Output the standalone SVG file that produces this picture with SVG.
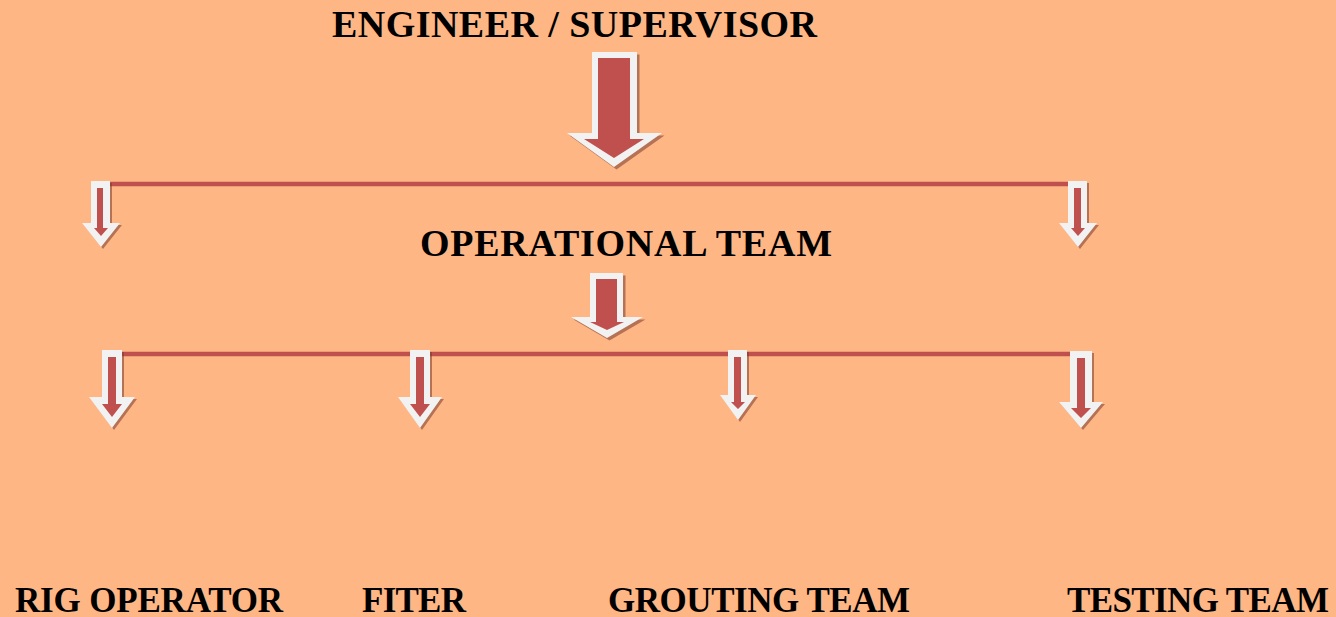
<svg xmlns="http://www.w3.org/2000/svg" width="1336" height="617" viewBox="0 0 1336 617">
<style>
.bg{fill:#FFB685}
.line{stroke:#C0504D;stroke-width:4.5;fill:none}
.sh{fill:#7a3a2c;opacity:0.55}
.out{fill:#F2F2F2}
.in{fill:#C0504D}
.t{font-family:"Liberation Serif","Times New Roman",serif;font-weight:bold;fill:#000}
</style>
<rect class="bg" x="0" y="0" width="1336" height="617"/>
<g id="connectors">
<line class="line" x1="108" y1="184" x2="1070" y2="184"/>
<line class="line" x1="120" y1="354" x2="1072" y2="354"/>
<g id="arrow-engineer">
<polygon class="sh" transform="translate(2.5,2.5)" points="592,52 637,52 637,133 662,133 614,167 567,133 592,133"/>
<polygon class="out" points="592,52 637,52 637,133 662,133 614,167 567,133 592,133"/>
<polygon class="in" points="598,58 630,58 630,139 644,139 614,158 584,139 598,139"/>
</g>
<g id="arrow-left-top">
<polygon class="sh" transform="translate(2,2)" points="91,181 110,181 110,223 120,223 101,247 82,223 91,223"/>
<polygon class="out" points="91,181 110,181 110,223 120,223 101,247 82,223 91,223"/>
<polygon class="in" points="97,188 103,188 103,228 108,228 101,236 94,228 97,228"/>
</g>
<g id="arrow-right-top">
<polygon class="sh" transform="translate(2,2)" points="1068,181 1087,181 1087,223 1097,223 1078,247 1059,223 1068,223"/>
<polygon class="out" points="1068,181 1087,181 1087,223 1097,223 1078,247 1059,223 1068,223"/>
<polygon class="in" points="1074,188 1081,188 1081,228 1085,228 1078,236 1071,228 1074,228"/>
</g>
<g id="arrow-operational">
<polygon class="sh" transform="translate(2.5,2.5)" points="590,273 623,273 623,317 643,317 607,338 571,317 590,317"/>
<polygon class="out" points="590,273 623,273 623,317 643,317 607,338 571,317 590,317"/>
<polygon class="in" points="596,279 617,279 617,322 624,322 607,330 590,322 596,322"/>
</g>
<g id="arrow-rig">
<polygon class="sh" transform="translate(2,2)" points="102,350 122,350 122,397 135,397 112,428 89,397 102,397"/>
<polygon class="out" points="102,350 122,350 122,397 135,397 112,428 89,397 102,397"/>
<polygon class="in" points="108,357 116,357 116,404 122,404 112,417 102,404 108,404"/>
</g>
<g id="arrow-fiter">
<polygon class="sh" transform="translate(2,2)" points="410,350 430,350 430,397 442,397 420,428 398,397 410,397"/>
<polygon class="out" points="410,350 430,350 430,397 442,397 420,428 398,397 410,397"/>
<polygon class="in" points="416,357 424,357 424,404 430,404 420,417 410,404 416,404"/>
</g>
<g id="arrow-grouting">
<polygon class="sh" transform="translate(2,2)" points="728,350 747,350 747,395 756,395 738,420 720,395 728,395"/>
<polygon class="out" points="728,350 747,350 747,395 756,395 738,420 720,395 728,395"/>
<polygon class="in" points="734,357 741,357 741,402 745,402 738,409 731,402 734,402"/>
</g>
<g id="arrow-testing">
<polygon class="sh" transform="translate(2,2)" points="1070,351 1092,351 1092,402 1103,402 1081,428 1059,402 1070,402"/>
<polygon class="out" points="1070,351 1092,351 1092,402 1103,402 1081,428 1059,402 1070,402"/>
<polygon class="in" points="1077,358 1085,358 1085,408 1091,408 1081,418 1071,408 1077,408"/>
</g>
</g>
<g id="node-engineer"><text class="t" x="332" y="37" font-size="38" textLength="485" lengthAdjust="spacing">ENGINEER / SUPERVISOR</text></g>
<g id="node-operational"><text class="t" x="420" y="256" font-size="38" textLength="412" lengthAdjust="spacing">OPERATIONAL TEAM</text></g>
<g id="node-rig"><text class="t" x="15" y="612" font-size="35" textLength="268" lengthAdjust="spacing">RIG OPERATOR</text></g>
<g id="node-fiter"><text class="t" x="362" y="612" font-size="35" textLength="104" lengthAdjust="spacing">FITER</text></g>
<g id="node-grouting"><text class="t" x="608" y="612" font-size="35" textLength="302" lengthAdjust="spacing">GROUTING TEAM</text></g>
<g id="node-testing"><text class="t" x="1067" y="612" font-size="35" textLength="262" lengthAdjust="spacing">TESTING TEAM</text></g>
</svg>
